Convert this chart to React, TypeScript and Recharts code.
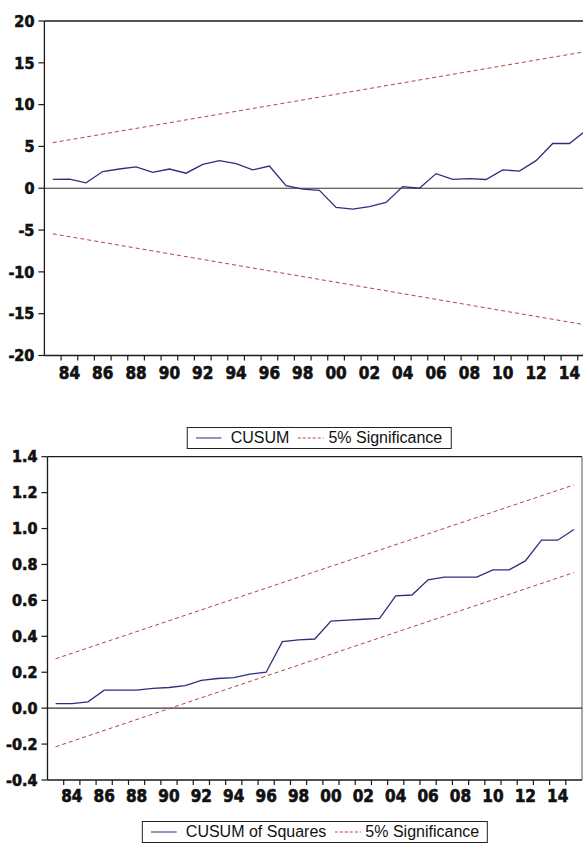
import React from 'react';
import { LineChart, Line, XAxis, YAxis, ReferenceLine, Legend } from 'recharts';

// ---------- data ----------
const years = [
  1983, 1984, 1985, 1986, 1987, 1988, 1989, 1990, 1991, 1992, 1993,
  1994, 1995, 1996, 1997, 1998, 1999, 2000, 2001, 2002, 2003, 2004,
  2005, 2006, 2007, 2008, 2009, 2010, 2011, 2012, 2013, 2014, 2015,
];
const yearLabels = [
  1984, 1986, 1988, 1990, 1992, 1994, 1996, 1998, 2000, 2002, 2004,
  2006, 2008, 2010, 2012, 2014,
];
const cusum = [
  1.05, 1.1, 0.65, 2.0, 2.3, 2.55, 1.9, 2.3, 1.8, 2.85, 3.3,
  2.95, 2.2, 2.65, 0.3, -0.1, -0.25, -2.3, -2.5, -2.2, -1.7, 0.2,
  0.0, 1.75, 1.05, 1.15, 1.05, 2.2, 2.05, 3.3, 5.35, 5.35, 6.9,
];
const cusumBoundStart = 5.45;
const cusumBoundEnd = 16.35;
const cusumSq = [
  0.025, 0.025, 0.035, 0.1, 0.1, 0.1, 0.11, 0.115, 0.125, 0.155, 0.165,
  0.17, 0.19, 0.2, 0.37, 0.38, 0.385, 0.485, 0.49, 0.495, 0.5, 0.625,
  0.63, 0.715, 0.73, 0.73, 0.73, 0.77, 0.77, 0.82, 0.935, 0.935, 0.995,
];
const sqUpperStart = 0.275;
const sqUpperEnd = 1.243;
const sqLowerStart = -0.215;
const sqLowerEnd = 0.755;
const cusumTicks = [-20, -15, -10, -5, 0, 5, 10, 15, 20];
const sqTicks = [-0.4, -0.2, 0.0, 0.2, 0.4, 0.6, 0.8, 1.0, 1.2, 1.4];

// ---------- tables ----------
const last = years.length - 1;
const topData = years.map((y, i) => ({
  year: y,
  cusum: cusum[i],
  upper: i === 0 ? cusumBoundStart : i === last ? cusumBoundEnd : null,
  lower: i === 0 ? -cusumBoundStart : i === last ? -cusumBoundEnd : null,
}));
const bottomData = years.map((y, i) => ({
  year: y,
  sq: cusumSq[i],
  upper: i === 0 ? sqUpperStart : i === last ? sqUpperEnd : null,
  lower: i === 0 ? sqLowerStart : i === last ? sqLowerEnd : null,
}));
const xDomain = [years[0] - 0.5, years[last] + 0.5];
const xTicks = [...years.slice(0, -1).map((y) => y + 0.5), ...yearLabels].sort((a, b) => a - b);

// ---------- styles ----------
const AXIS = '#1a1a1a';
const NAVY = '#2e2e7c';
const RED = '#b5443f';
const TICK_FONT = "'Liberation Sans Narrow', 'DejaVu Sans Condensed', 'Liberation Sans', Arial, sans-serif";
const LEGEND_FONT = "'Liberation Sans', Arial, sans-serif";

const XTick = (props: any) => {
  const { x, y, payload, labelDy } = props;
  const v = payload.value as number;
  if (Math.abs(v - Math.round(v)) > 0.25) {
    return <line x1={x} x2={x} y1={y} y2={y + 5} stroke={AXIS} strokeWidth={1.2} />;
  }
  return (
    <text
      x={x}
      y={y + labelDy}
      textAnchor="middle"
      fontFamily={TICK_FONT}
      fontWeight="bold"
      fontSize={17}
      fill="#111"
      stroke="#111"
      strokeWidth={0.6}
    >
      {String(v % 100).padStart(2, '0')}
    </text>
  );
};

const YTick = (props: any) => {
  const { x, y, payload, digits } = props;
  const v = payload.value as number;
  return (
    <text
      x={x}
      y={y}
      dy="0.36em"
      textAnchor="end"
      fontFamily={TICK_FONT}
      fontWeight="bold"
      fontSize={16}
      fill="#111"
      stroke="#111"
      strokeWidth={0.6}
    >
      {v.toFixed(digits)}
    </text>
  );
};

const makeLegend = (centerX: number, padTop: number, totalH: number) => (props: any) => {
  const items = (props.payload || [])
    .filter((p: any) => p.type !== 'none')
    .slice()
    .sort((a: any, b: any) => (a.payload && a.payload.strokeDasharray ? 1 : 0) - (b.payload && b.payload.strokeDasharray ? 1 : 0));
  return (
    <div style={{ width: 600, height: totalH, position: 'relative' }}>
      <div
        style={{
          position: 'absolute',
          left: centerX,
          top: padTop,
          transform: 'translateX(-50%)',
          height: 20,
          border: '1px solid #222',
          display: 'flex',
          alignItems: 'center',
          padding: '0 8px',
          fontFamily: LEGEND_FONT,
          fontSize: 16,
          color: '#111',
          whiteSpace: 'nowrap',
          background: '#fff',
        }}
      >
        {items.map((it: any, i: number) => {
          const dashed = it.payload && it.payload.strokeDasharray;
          return (
            <React.Fragment key={i}>
              <svg width={26} height={10} style={{ marginRight: dashed ? 5 : 9 }}>
                <line x1={0} x2={26} y1={5} y2={5} stroke={it.color} strokeWidth={1.2} strokeDasharray={dashed ? '3 2' : undefined} />
              </svg>
              <span style={{ marginRight: i < items.length - 1 ? 8 : 0 }}>{it.value}</span>
            </React.Fragment>
          );
        })}
      </div>
    </div>
  );
};

export default function App() {
  return (
    <div style={{ position: 'absolute', left: 0, top: 0, width: 583, height: 843, overflow: 'hidden', background: '#fff' }}>
      <style>{'.recharts-surface { overflow: visible; }'}</style>
      <LineChart width={600} height={449} data={topData} margin={{ top: 21, right: 5.6, bottom: 0, left: 0 }}>
        <XAxis
          dataKey="year"
          type="number"
          domain={xDomain}
          ticks={xTicks}
          interval={0}
          height={30}
          tickLine={false}
          tickSize={0}
          tickMargin={0}
          axisLine={{ stroke: AXIS, strokeWidth: 1.3 }}
          tick={(p: any) => <XTick {...p} labelDy={23.5} />}
        />
        <YAxis
          type="number"
          domain={[-20, 20]}
          ticks={cusumTicks}
          interval={0}
          width={44.4}
          tickSize={6}
          tickMargin={4}
          axisLine={{ stroke: AXIS, strokeWidth: 1.3 }}
          tickLine={{ stroke: AXIS, strokeWidth: 1.2 }}
          tick={(p: any) => <YTick {...p} digits={0} />}
        />
        <ReferenceLine y={20} stroke={AXIS} strokeWidth={1.3} />
        <ReferenceLine y={0} stroke="#333" strokeWidth={1.2} />
        <Line dataKey="cusum" name="CUSUM" stroke={NAVY} strokeWidth={1.3} dot={false} isAnimationActive={false} />
        <Line dataKey="upper" name="5% Significance" stroke={RED} strokeWidth={1} strokeDasharray="4 3" connectNulls dot={false} isAnimationActive={false} />
        <Line dataKey="lower" legendType="none" stroke={RED} strokeWidth={1} strokeDasharray="4 3" connectNulls dot={false} isAnimationActive={false} />
        <Legend verticalAlign="bottom" wrapperStyle={{ left: 0, bottom: 0, width: 600 }} content={makeLegend(319, 41.5, 63.5)} />
      </LineChart>
      <div style={{ marginTop: -8 }}>
        <LineChart width={600} height={402} data={bottomData} margin={{ top: 15.7, right: 18, bottom: 0, left: 0 }}>
          <XAxis
            dataKey="year"
            type="number"
            domain={xDomain}
            ticks={xTicks}
            interval={0}
            height={30}
            tickLine={false}
            tickSize={0}
            tickMargin={0}
            axisLine={{ stroke: AXIS, strokeWidth: 1.3 }}
            tick={(p: any) => <XTick {...p} labelDy={22} />}
          />
          <YAxis
            type="number"
            domain={[-0.4, 1.4]}
            ticks={sqTicks}
            interval={0}
            width={47.5}
            tickSize={6}
            tickMargin={4}
            axisLine={{ stroke: AXIS, strokeWidth: 1.3 }}
            tickLine={{ stroke: AXIS, strokeWidth: 1.2 }}
            tick={(p: any) => <YTick {...p} digits={1} />}
          />
          <ReferenceLine y={1.4} stroke={AXIS} strokeWidth={1.3} />
          <ReferenceLine x={xDomain[1]} stroke="#555" strokeWidth={1} />
          <ReferenceLine y={0} stroke="#333" strokeWidth={1.2} />
          <Line dataKey="sq" name="CUSUM of Squares" stroke={NAVY} strokeWidth={1.3} dot={false} isAnimationActive={false} />
          <Line dataKey="upper" name="5% Significance" stroke={RED} strokeWidth={1} strokeDasharray="4 3" connectNulls dot={false} isAnimationActive={false} />
          <Line dataKey="lower" legendType="none" stroke={RED} strokeWidth={1} strokeDasharray="4 3" connectNulls dot={false} isAnimationActive={false} />
          <Legend verticalAlign="bottom" wrapperStyle={{ left: 0, bottom: 0, width: 600 }} content={makeLegend(315, 11, 33)} />
        </LineChart>
      </div>
    </div>
  );
}
